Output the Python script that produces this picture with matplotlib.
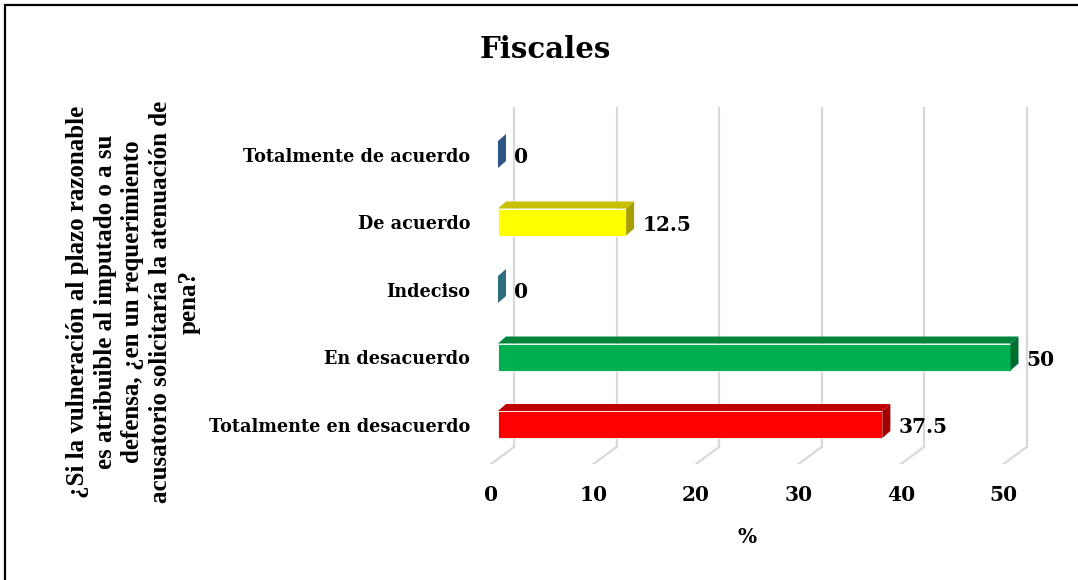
import numpy as np
import matplotlib.pyplot as plt
from matplotlib.patches import Polygon, Rectangle

# data (bottom to top)
categories = ["Totalmente en desacuerdo", "En desacuerdo", "Indeciso",
              "De acuerdo", "Totalmente de acuerdo"]
values = [37.5, 50, 0, 12.5, 0]
value_labels = ["37.5", "50", "0", "12.5", "0"]
xticks = [0, 10, 20, 30, 40, 50]

front_cols = ["#FF0000", "#00B050", "#31849B", "#FFFF00", "#4F81BD"]
top_cols = ["#C00000", "#00843C", "#25637A", "#C8C000", "#2F5486"]
side_cols = ["#A00000", "#006E30", "#2E6E80", "#A8A000", "#2F5486"]

W, H = 1078, 580
fig = plt.figure(figsize=[W / 100, H / 100], dpi=100)

# axes in pixel layout
L, R, T, B = 480, 1040, 100, 464
ax = fig.add_axes([L / W, 1 - B / H, (R - L) / W, (B - T) / H])
px_x = 10.25   # pixels per x unit
px_y = 67.5    # pixels per category
x0 = 498
ax.set_xlim((L - x0) / px_x, (R - x0) / px_x)
ax.set_ylim(-(B - 424.5) / px_y, 4 + (154.5 - T) / px_y)
for s in ax.spines.values():
    s.set_visible(False)
ax.set_xticks([])

serif = "DejaVu Serif"

# 3d geometry offsets
bh = 0.2                      # half bar height
ddx, ddy = 8 / px_x, 7 / px_y  # bar depth
back_dx = 16 / px_x           # back wall offset
front_dx = -7 / px_x          # front floor offset
y_wall_bot = -(447 - 424.5) / px_y
y_wall_top = 4 + (154.5 - 108) / px_y
y_floor = -(464 - 424.5) / px_y

grid_c = "#D9D9D9"
for t in xticks:
    ax.plot([t + back_dx, t + back_dx], [y_wall_bot, y_wall_top], color=grid_c, lw=1.6, zorder=1)
    ax.plot([t + back_dx, t + front_dx], [y_wall_bot, y_floor], color=grid_c, lw=1.6, zorder=1)
    ax.text(t + front_dx, -(495 - 424.5) / px_y, str(t), ha="center", va="center",
            fontsize=14.5, fontweight="bold", family=serif, clip_on=False)

ypos = np.arange(len(categories))
ax.barh(ypos, values, height=2 * bh, color=front_cols, edgecolor="#FFFFFF", linewidth=0.6, zorder=3)
for i, v in enumerate(values):
    y = ypos[i]
    top = Polygon([[0, y + bh], [ddx, y + bh + ddy], [v + ddx, y + bh + ddy], [v, y + bh]],
                  closed=True, facecolor=top_cols[i], edgecolor="none", zorder=3)
    side = Polygon([[v, y - bh], [v + ddx, y - bh + ddy], [v + ddx, y + bh + ddy], [v, y + bh]],
                   closed=True, facecolor=side_cols[i], edgecolor="none", zorder=3)
    ax.add_patch(top)
    ax.add_patch(side)
    ax.text(v + 1.56, y - 0.04, value_labels[i], ha="left", va="center",
            fontsize=14.5, fontweight="bold", family=serif)

ax.set_yticks(ypos)
ax.set_yticklabels(categories, fontsize=12.7, fontweight="bold", family=serif)
ax.tick_params(axis="y", length=0, pad=7)

ax.text(25 + front_dx, -(537 - 424.5) / px_y, "%", ha="center", va="center",
        fontsize=14.5, fontweight="bold", family=serif, clip_on=False)

fig.text(545 / W, 1 - 49 / H, "Fiscales", ha="center", va="center",
         fontsize=21, fontweight="bold", family=serif)

fig.text(133 / W, 1 - 302 / H,
         "¿Si la vulneración al plazo razonable\nes atribuible al imputado o a su\n"
         "defensa, ¿en un requerimiento\nacusatorio solicitaría la atenuación de\npena?",
         rotation=90, ha="center", va="center", multialignment="center",
         fontsize=18, fontweight="bold", family="Liberation Serif", linespacing=1.27)

# frame
fig.patches.append(Rectangle((5 / W, -0.1), 1.2, 1 - 5 / H + 0.1, transform=fig.transFigure,
                             fill=False, edgecolor="black", lw=1.6))

fig.savefig("out.png", dpi=100)
